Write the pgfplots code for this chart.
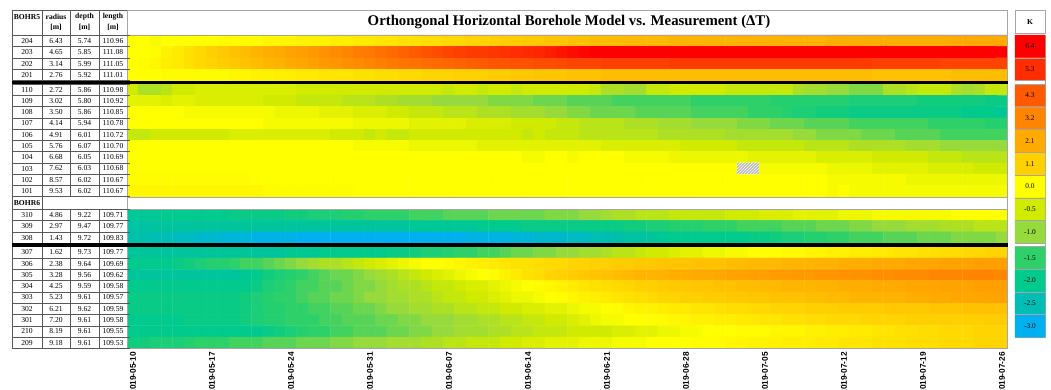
\documentclass[border=0pt]{standalone}
\usepackage{pgfplots}
\pgfplotsset{compat=1.18}
\usepackage{fontspec}
\setmainfont{Liberation Serif}
\newfontfamily\sansfont{Liberation Sans}
\usetikzlibrary{patterns}
\newcommand\tabfont{\fontsize{7.6}{8}\selectfont}

\pgfplotsset{colormap={bore}{
 rgb255(0)=(0,176,240)
 rgb255(5)=(0,190,180)
 rgb255(10)=(0,202,140)
 rgb255(15)=(45,208,105)
 rgb255(20)=(150,218,60)
 rgb255(25)=(208,234,0)
 rgb255(30)=(255,255,0)
 rgb255(41)=(255,208,0)
 rgb255(51)=(255,170,0)
 rgb255(62)=(255,132,0)
 rgb255(73)=(255,90,0)
 rgb255(83)=(255,45,0)
 rgb255(94)=(255,0,0)
}}

\begin{document}
\begin{tikzpicture}[declare function={
  rowy(\r)=(\r<4)*(35+11.43*(\r+0.5)) + (\r>3)*(\r<14)*(84+11.27*(\r-3.5))
          + (\r>13)*(\r<15)*202.9 + (\r>14)*(\r<18)*(209+11.43*(\r-14.5))
          + (\r>17)*(246.7+11.29*(\r-17.5));}]
% ---------------- heat map (y in pixel rows from the top) ----------------
\begin{axis}[
  at={(127.4pt,41.7pt)}, anchor=south west,
  scale only axis, width=880.2pt, height=313.3pt,
  xmin=-0.5, xmax=77.5, ymin=35, ymax=348.3, y dir=reverse,
  enlargelimits=false,
  colormap name=bore, point meta min=-3, point meta max=6.4,
  xtick={0,7,...,77},
  xticklabels={2019-05-10,2019-05-17,2019-05-24,2019-05-31,2019-06-07,2019-06-14,2019-06-21,2019-06-28,2019-07-05,2019-07-12,2019-07-19,2019-07-26},
  ytick=\empty,
  major tick length=0pt,
  xticklabel style={font=\sansfont\bfseries\fontsize{8.3}{9}\selectfont, rotate=90, anchor=east, inner sep=3.5pt},
  axis line style={draw=gray!70, line width=0.6pt},
  axis on top,
]
\addplot[matrix plot, mesh/cols=78, point meta=explicit]
 table[header=false, row sep=\\, x expr={mod(\coordindex,78)}, y expr={rowy(floor((\coordindex+0.5)/78))}, meta index=0] {
0.0\\0.0\\-0.1\\0.0\\0.0\\0.0\\0.0\\0.0\\0.1\\0.1\\
0.1\\0.1\\0.2\\0.2\\0.2\\0.3\\0.3\\0.3\\0.4\\0.4\\
0.5\\0.5\\0.6\\0.6\\0.7\\0.7\\0.8\\0.8\\0.9\\0.9\\
1.0\\1.0\\1.1\\1.2\\1.2\\1.3\\1.3\\1.4\\1.4\\1.5\\
1.5\\1.6\\1.6\\1.6\\1.7\\1.7\\1.7\\1.7\\1.8\\1.8\\
1.8\\1.8\\1.8\\1.8\\1.9\\1.9\\1.9\\1.9\\1.9\\1.9\\
1.9\\1.9\\2.0\\2.0\\2.0\\2.0\\2.0\\2.0\\2.0\\2.0\\
2.0\\2.0\\2.0\\2.1\\2.1\\2.1\\2.1\\2.1\\
0.0\\0.0\\0.1\\0.3\\0.5\\0.7\\0.9\\1.1\\1.3\\1.5\\
1.6\\1.8\\2.0\\2.1\\2.3\\2.4\\2.6\\2.8\\3.0\\3.2\\
3.4\\3.5\\3.7\\3.9\\4.1\\4.3\\4.5\\4.6\\4.8\\4.9\\
5.0\\5.0\\5.1\\5.2\\5.3\\5.4\\5.5\\5.7\\5.9\\6.1\\
6.3\\6.4\\6.4\\6.4\\6.4\\6.4\\6.4\\6.4\\6.4\\6.4\\
6.4\\6.4\\6.4\\6.4\\6.4\\6.4\\6.4\\6.4\\6.4\\6.4\\
6.4\\6.4\\6.4\\6.4\\6.4\\6.4\\6.4\\6.4\\6.4\\6.4\\
6.4\\6.4\\6.4\\6.4\\6.4\\6.4\\6.4\\6.4\\
0.0\\0.1\\0.2\\0.4\\0.5\\0.7\\0.9\\1.0\\1.2\\1.3\\
1.5\\1.6\\1.8\\1.9\\2.1\\2.2\\2.4\\2.6\\2.7\\2.9\\
3.0\\3.2\\3.3\\3.5\\3.6\\3.7\\3.8\\3.9\\4.0\\4.1\\
4.2\\4.3\\4.4\\4.4\\4.5\\4.5\\4.6\\4.6\\4.7\\4.8\\
4.8\\4.8\\4.9\\4.9\\4.9\\4.9\\4.9\\4.9\\5.0\\5.0\\
5.0\\5.0\\5.0\\5.0\\5.0\\5.0\\5.0\\5.0\\5.0\\5.0\\
5.0\\5.0\\5.0\\5.0\\5.0\\5.0\\4.9\\4.9\\4.9\\4.9\\
4.9\\4.9\\4.8\\4.8\\4.8\\4.8\\4.8\\4.8\\
0.0\\0.0\\0.0\\0.1\\0.1\\0.1\\0.1\\0.1\\0.1\\0.2\\
0.2\\0.3\\0.3\\0.4\\0.4\\0.5\\0.5\\0.6\\0.6\\0.6\\
0.7\\0.7\\0.8\\0.8\\0.9\\0.9\\1.0\\1.0\\1.0\\1.1\\
1.1\\1.1\\1.2\\1.2\\1.3\\1.3\\1.4\\1.4\\1.4\\1.5\\
1.5\\1.5\\1.6\\1.6\\1.6\\1.6\\1.6\\1.6\\1.6\\1.6\\
1.6\\1.6\\1.6\\1.6\\1.6\\1.6\\1.6\\1.6\\1.6\\1.6\\
1.6\\1.6\\1.6\\1.6\\1.6\\1.6\\1.5\\1.5\\1.5\\1.5\\
1.5\\1.5\\1.5\\1.6\\1.6\\1.6\\1.6\\1.6\\
-0.5\\-0.8\\-0.8\\-0.7\\-0.5\\-0.5\\-0.4\\-0.4\\-0.4\\-0.4\\
-0.4\\-0.4\\-0.4\\-0.4\\-0.4\\-0.5\\-0.5\\-0.5\\-0.5\\-0.5\\
-0.5\\-0.5\\-0.5\\-0.5\\-0.5\\-0.5\\-0.5\\-0.5\\-0.6\\-0.5\\
-0.5\\-0.6\\-0.5\\-0.5\\-0.6\\-0.5\\-0.5\\-0.5\\-0.5\\-0.5\\
-0.5\\-0.6\\-0.8\\-0.8\\-0.9\\-0.9\\-0.6\\-0.6\\-0.5\\-0.5\\
-0.5\\-0.5\\-0.5\\-0.6\\-0.6\\-0.6\\-0.6\\-0.6\\-0.6\\-0.8\\
-0.9\\-0.9\\-1.0\\-1.0\\-1.1\\-1.1\\-1.1\\-0.8\\-0.8\\-0.7\\
-0.6\\-0.6\\-0.6\\-0.8\\-0.9\\-0.8\\-0.6\\-0.6\\
-0.3\\-0.3\\-0.3\\-0.4\\-0.3\\-0.3\\-0.4\\-0.4\\-0.4\\-0.4\\
-0.4\\-0.4\\-0.5\\-0.5\\-0.5\\-0.6\\-0.6\\-0.6\\-0.6\\-0.7\\
-0.7\\-0.7\\-0.8\\-0.8\\-0.9\\-0.9\\-0.9\\-1.0\\-1.0\\-1.0\\
-1.0\\-1.0\\-1.1\\-1.1\\-1.1\\-1.1\\-1.2\\-1.2\\-1.2\\-1.3\\
-1.3\\-1.3\\-1.3\\-1.4\\-1.4\\-1.4\\-1.4\\-1.4\\-1.4\\-1.4\\
-1.5\\-1.5\\-1.5\\-1.5\\-1.5\\-1.5\\-1.5\\-1.6\\-1.6\\-1.6\\
-1.6\\-1.6\\-1.6\\-1.6\\-1.7\\-1.7\\-1.7\\-1.7\\-1.7\\-1.7\\
-1.8\\-1.8\\-1.8\\-1.8\\-1.8\\-1.8\\-1.9\\-1.9\\
0.0\\0.0\\0.0\\0.0\\0.0\\-0.1\\-0.1\\-0.1\\-0.1\\-0.1\\
-0.1\\-0.1\\-0.1\\-0.2\\-0.2\\-0.2\\-0.2\\-0.3\\-0.3\\-0.3\\
-0.4\\-0.4\\-0.4\\-0.5\\-0.5\\-0.6\\-0.6\\-0.6\\-0.7\\-0.7\\
-0.7\\-0.8\\-0.8\\-0.8\\-0.9\\-0.9\\-0.9\\-1.0\\-1.0\\-1.1\\
-1.1\\-1.2\\-1.2\\-1.2\\-1.2\\-1.3\\-1.3\\-1.3\\-1.3\\-1.3\\
-1.4\\-1.4\\-1.4\\-1.4\\-1.4\\-1.5\\-1.5\\-1.5\\-1.6\\-1.7\\
-1.7\\-1.8\\-1.8\\-1.8\\-1.9\\-1.9\\-1.9\\-1.9\\-1.9\\-1.9\\
-1.9\\-1.9\\-1.9\\-1.9\\-2.0\\-2.0\\-2.0\\-2.1\\
0.0\\0.0\\0.0\\0.0\\0.0\\0.0\\0.0\\0.0\\0.0\\0.0\\
0.0\\0.0\\-0.1\\-0.1\\-0.1\\-0.1\\-0.1\\-0.1\\-0.1\\-0.1\\
-0.2\\-0.2\\-0.2\\-0.2\\-0.2\\-0.3\\-0.3\\-0.3\\-0.3\\-0.3\\
-0.4\\-0.4\\-0.4\\-0.4\\-0.5\\-0.5\\-0.5\\-0.5\\-0.6\\-0.6\\
-0.7\\-0.7\\-0.7\\-0.7\\-0.8\\-0.8\\-0.8\\-0.9\\-0.9\\-0.9\\
-1.0\\-1.0\\-1.0\\-1.0\\-1.1\\-1.1\\-1.1\\-1.2\\-1.2\\-1.2\\
-1.3\\-1.3\\-1.3\\-1.3\\-1.4\\-1.4\\-1.4\\-1.4\\-1.4\\-1.4\\
-1.4\\-1.5\\-1.5\\-1.5\\-1.5\\-1.5\\-1.6\\-1.6\\
-0.6\\-0.6\\-0.5\\-0.5\\-0.5\\-0.5\\-0.5\\-0.5\\-0.5\\-0.4\\
-0.4\\-0.4\\-0.4\\-0.4\\-0.4\\-0.4\\-0.4\\-0.4\\-0.5\\-0.5\\
-0.5\\-0.6\\-0.5\\-0.6\\-0.6\\-0.5\\-0.5\\-0.5\\-0.5\\-0.5\\
-0.5\\-0.5\\-0.5\\-0.5\\-0.5\\-0.6\\-0.5\\-0.6\\-0.6\\-0.6\\
-0.7\\-0.7\\-0.7\\-0.7\\-0.7\\-0.7\\-0.7\\-0.8\\-0.8\\-0.8\\
-0.8\\-0.8\\-0.8\\-0.9\\-0.9\\-0.9\\-0.9\\-0.9\\-0.9\\-1.0\\
-1.0\\-1.1\\-1.1\\-1.1\\-1.1\\-1.2\\-1.2\\-1.2\\-1.3\\-1.3\\
-1.3\\-1.3\\-1.4\\-1.4\\-1.4\\-1.4\\-1.4\\-1.4\\
0.0\\0.0\\0.0\\0.0\\0.0\\0.0\\0.0\\0.0\\0.0\\0.0\\
0.0\\0.0\\0.0\\0.0\\0.0\\0.0\\0.0\\0.0\\0.0\\0.0\\
-0.1\\-0.1\\-0.1\\-0.1\\-0.1\\-0.2\\-0.2\\-0.2\\-0.2\\-0.2\\
-0.2\\-0.3\\-0.3\\-0.3\\-0.3\\-0.3\\-0.3\\-0.3\\-0.3\\-0.3\\
-0.3\\-0.3\\-0.4\\-0.4\\-0.4\\-0.4\\-0.4\\-0.4\\-0.4\\-0.5\\
-0.5\\-0.5\\-0.5\\-0.5\\-0.6\\-0.6\\-0.6\\-0.6\\-0.6\\-0.6\\
-0.7\\-0.7\\-0.7\\-0.7\\-0.8\\-0.8\\-0.8\\-0.8\\-0.8\\-0.9\\
-0.9\\-0.9\\-1.0\\-1.0\\-1.0\\-1.0\\-1.0\\-1.0\\
0.0\\0.0\\0.0\\0.0\\0.0\\0.0\\0.0\\0.0\\0.0\\0.0\\
0.0\\0.0\\0.0\\0.0\\0.0\\0.0\\0.0\\0.0\\0.0\\0.0\\
0.0\\0.0\\0.0\\0.0\\0.0\\0.0\\0.0\\0.0\\0.0\\0.0\\
0.0\\0.0\\0.0\\0.0\\0.0\\-0.1\\-0.1\\0.0\\0.0\\-0.1\\
0.0\\0.0\\0.0\\0.0\\-0.1\\-0.1\\-0.1\\-0.1\\-0.2\\-0.2\\
-0.2\\-0.2\\-0.2\\-0.2\\-0.2\\-0.3\\-0.3\\-0.3\\-0.3\\-0.3\\
-0.3\\-0.4\\-0.4\\-0.4\\-0.4\\-0.4\\-0.5\\-0.5\\-0.5\\-0.5\\
-0.5\\-0.6\\-0.6\\-0.6\\-0.7\\-0.7\\-0.7\\-0.7\\
0.0\\0.0\\0.0\\0.0\\0.0\\0.0\\0.0\\0.0\\0.0\\0.0\\
0.0\\0.0\\0.0\\0.0\\0.0\\0.0\\0.0\\0.0\\0.0\\0.0\\
0.0\\0.0\\0.0\\0.0\\0.0\\0.0\\0.0\\0.0\\0.0\\0.0\\
0.0\\0.0\\0.0\\0.0\\0.0\\0.0\\0.0\\0.0\\0.0\\0.0\\
0.0\\0.0\\0.0\\0.0\\0.0\\0.0\\0.0\\0.0\\0.0\\0.0\\
0.0\\0.0\\0.0\\0.0\\0.0\\0.0\\-0.1\\-0.1\\-0.1\\-0.1\\
-0.1\\-0.1\\-0.2\\-0.2\\-0.2\\-0.2\\-0.3\\-0.3\\-0.3\\-0.3\\
-0.3\\-0.4\\-0.4\\-0.4\\-0.4\\-0.5\\-0.5\\-0.5\\
0.1\\0.1\\0.1\\0.1\\0.1\\0.1\\0.1\\0.1\\0.1\\0.1\\
0.1\\0.0\\0.0\\0.0\\0.0\\0.0\\0.0\\0.0\\0.0\\0.0\\
0.0\\0.0\\0.0\\0.0\\0.0\\0.0\\0.0\\0.0\\0.0\\0.0\\
0.0\\0.0\\0.0\\0.0\\0.0\\0.0\\0.0\\0.0\\0.0\\0.0\\
0.0\\0.0\\0.0\\0.0\\0.0\\0.0\\0.0\\0.0\\0.0\\0.0\\
0.0\\0.0\\0.0\\0.0\\0.0\\0.0\\0.0\\0.0\\0.0\\0.0\\
0.0\\0.0\\-0.1\\-0.1\\-0.1\\-0.1\\-0.1\\-0.1\\-0.1\\-0.2\\
-0.2\\-0.2\\-0.2\\-0.2\\-0.2\\-0.2\\-0.2\\-0.2\\
0.2\\0.2\\0.2\\0.2\\0.2\\0.2\\0.2\\0.2\\0.2\\0.2\\
0.2\\0.2\\0.1\\0.1\\0.1\\0.1\\0.1\\0.1\\0.1\\0.1\\
0.0\\0.0\\0.0\\0.0\\0.0\\0.0\\0.0\\0.0\\0.0\\0.0\\
0.0\\0.0\\0.0\\0.0\\0.0\\0.0\\0.0\\0.0\\0.0\\0.0\\
0.0\\0.0\\0.0\\0.0\\0.0\\0.0\\0.0\\0.0\\0.0\\0.0\\
0.0\\0.0\\0.0\\0.0\\0.0\\0.0\\0.0\\0.0\\0.0\\0.0\\
0.0\\0.0\\-0.1\\0.0\\-0.1\\-0.1\\-0.1\\-0.1\\-0.1\\-0.1\\
-0.1\\-0.1\\-0.1\\-0.1\\-0.1\\-0.1\\-0.1\\-0.1\\
0.0\\0.0\\0.0\\0.0\\0.0\\0.0\\0.0\\0.0\\0.0\\0.0\\
0.0\\0.0\\0.0\\0.0\\0.0\\0.0\\0.0\\0.0\\0.0\\0.0\\
0.0\\0.0\\0.0\\0.0\\0.0\\0.0\\0.0\\0.0\\0.0\\0.0\\
0.0\\0.0\\0.0\\0.0\\0.0\\0.0\\0.0\\0.0\\0.0\\0.0\\
0.0\\0.0\\0.0\\0.0\\0.0\\0.0\\0.0\\0.0\\0.0\\0.0\\
0.0\\0.0\\0.0\\0.0\\0.0\\0.0\\0.0\\0.0\\0.0\\0.0\\
0.0\\0.0\\0.0\\0.0\\0.0\\0.0\\0.0\\0.0\\0.0\\0.0\\
0.0\\0.0\\0.0\\0.0\\0.0\\0.0\\0.0\\0.0\\
-2.1\\-2.1\\-2.1\\-2.0\\-2.0\\-2.0\\-2.0\\-2.0\\-2.0\\-1.9\\
-1.9\\-1.9\\-1.9\\-1.9\\-1.8\\-1.8\\-1.7\\-1.7\\-1.7\\-1.6\\
-1.6\\-1.5\\-1.5\\-1.5\\-1.5\\-1.4\\-1.4\\-1.4\\-1.3\\-1.3\\
-1.3\\-1.3\\-1.2\\-1.2\\-1.2\\-1.2\\-1.2\\-1.1\\-1.1\\-1.1\\
-1.0\\-1.0\\-0.9\\-0.8\\-0.8\\-0.7\\-0.7\\-0.7\\-0.6\\-0.6\\
-0.6\\-0.6\\-0.6\\-0.5\\-0.5\\-0.5\\-0.4\\-0.4\\-0.4\\-0.3\\
-0.3\\-0.3\\-0.3\\-0.2\\-0.2\\-0.2\\-0.1\\-0.1\\-0.1\\-0.1\\
-0.1\\-0.1\\-0.1\\0.0\\0.0\\0.0\\0.0\\0.0\\
-2.3\\-2.3\\-2.2\\-2.2\\-2.2\\-2.2\\-2.2\\-2.2\\-2.2\\-2.2\\
-2.2\\-2.2\\-2.2\\-2.2\\-2.2\\-2.2\\-2.2\\-2.2\\-2.2\\-2.2\\
-2.2\\-2.2\\-2.2\\-2.2\\-2.2\\-2.1\\-2.1\\-2.1\\-2.1\\-2.1\\
-2.1\\-2.0\\-2.0\\-2.0\\-2.0\\-1.9\\-1.9\\-1.9\\-1.9\\-1.9\\
-1.9\\-1.9\\-1.9\\-1.9\\-1.8\\-1.8\\-1.7\\-1.7\\-1.6\\-1.6\\
-1.6\\-1.5\\-1.5\\-1.5\\-1.4\\-1.4\\-1.4\\-1.4\\-1.3\\-1.3\\
-1.3\\-1.2\\-1.2\\-1.2\\-1.1\\-1.1\\-1.0\\-1.0\\-1.0\\-0.9\\
-0.9\\-0.9\\-0.8\\-0.8\\-0.8\\-0.7\\-0.7\\-0.7\\
-2.4\\-2.4\\-2.5\\-2.5\\-2.6\\-2.6\\-2.7\\-2.7\\-2.8\\-2.8\\
-2.8\\-2.9\\-2.9\\-2.9\\-2.9\\-3.0\\-3.0\\-3.0\\-3.0\\-3.0\\
-3.0\\-3.0\\-3.0\\-3.0\\-3.0\\-3.0\\-3.0\\-3.0\\-3.0\\-3.0\\
-2.9\\-2.9\\-2.9\\-2.9\\-2.8\\-2.8\\-2.7\\-2.7\\-2.7\\-2.6\\
-2.6\\-2.5\\-2.5\\-2.4\\-2.3\\-2.3\\-2.2\\-2.1\\-2.0\\-2.0\\
-2.0\\-2.0\\-2.0\\-2.0\\-2.0\\-1.9\\-1.9\\-1.8\\-1.7\\-1.7\\
-1.6\\-1.6\\-1.5\\-1.5\\-1.4\\-1.4\\-1.4\\-1.3\\-1.3\\-1.3\\
-1.2\\-1.2\\-1.2\\-1.1\\-1.1\\-1.1\\-1.1\\-1.0\\
-2.2\\-2.2\\-2.2\\-2.2\\-2.2\\-2.2\\-2.2\\-2.2\\-2.2\\-2.2\\
-2.2\\-2.2\\-2.2\\-2.2\\-2.1\\-2.1\\-2.1\\-2.0\\-2.0\\-2.0\\
-2.0\\-2.0\\-2.0\\-1.9\\-1.9\\-1.8\\-1.7\\-1.7\\-1.6\\-1.5\\
-1.5\\-1.4\\-1.4\\-1.3\\-1.2\\-1.2\\-1.1\\-1.1\\-1.0\\-1.0\\
-0.9\\-0.9\\-0.8\\-0.7\\-0.7\\-0.6\\-0.5\\-0.5\\-0.4\\-0.3\\
-0.3\\-0.2\\-0.2\\-0.1\\-0.1\\0.0\\0.0\\0.0\\0.1\\0.1\\
0.2\\0.2\\0.3\\0.3\\0.4\\0.4\\0.5\\0.5\\0.6\\0.6\\
0.7\\0.7\\0.8\\0.8\\0.9\\0.9\\1.0\\1.0\\
-2.0\\-2.0\\-2.0\\-2.0\\-1.9\\-1.8\\-1.7\\-1.6\\-1.6\\-1.5\\
-1.4\\-1.4\\-1.3\\-1.2\\-1.1\\-1.0\\-0.9\\-0.8\\-0.8\\-0.7\\
-0.6\\-0.5\\-0.4\\-0.3\\-0.2\\-0.1\\0.0\\0.0\\0.1\\0.2\\
0.3\\0.4\\0.5\\0.6\\0.7\\0.7\\0.8\\0.9\\0.9\\1.0\\
1.0\\1.1\\1.1\\1.2\\1.2\\1.3\\1.3\\1.4\\1.4\\1.4\\
1.5\\1.5\\1.5\\1.6\\1.6\\1.7\\1.7\\1.7\\1.8\\1.8\\
1.8\\1.9\\1.9\\2.0\\2.0\\2.0\\2.1\\2.1\\2.1\\2.2\\
2.2\\2.2\\2.3\\2.3\\2.3\\2.4\\2.4\\2.4\\
-2.2\\-2.2\\-2.2\\-2.2\\-2.2\\-2.2\\-2.2\\-2.2\\-2.2\\-2.2\\
-2.1\\-2.0\\-1.8\\-1.7\\-1.6\\-1.5\\-1.4\\-1.3\\-1.2\\-1.2\\
-1.1\\-1.0\\-0.9\\-0.8\\-0.7\\-0.6\\-0.5\\-0.4\\-0.3\\-0.2\\
-0.1\\0.0\\0.1\\0.3\\0.5\\0.7\\0.8\\1.0\\1.1\\1.2\\
1.3\\1.4\\1.5\\1.6\\1.7\\1.8\\1.8\\1.9\\2.0\\2.0\\
2.1\\2.1\\2.2\\2.3\\2.3\\2.4\\2.4\\2.5\\2.5\\2.6\\
2.6\\2.7\\2.7\\2.8\\2.8\\2.8\\2.9\\2.9\\3.0\\3.0\\
3.0\\3.1\\3.1\\3.1\\3.2\\3.2\\3.2\\3.1\\
-2.0\\-2.0\\-2.0\\-2.0\\-2.0\\-2.0\\-2.0\\-2.0\\-2.0\\-2.0\\
-2.0\\-1.9\\-1.7\\-1.6\\-1.5\\-1.4\\-1.4\\-1.3\\-1.3\\-1.2\\
-1.1\\-1.1\\-1.0\\-0.9\\-0.8\\-0.8\\-0.7\\-0.6\\-0.6\\-0.5\\
-0.4\\-0.4\\-0.3\\-0.2\\-0.1\\0.0\\0.1\\0.2\\0.3\\0.5\\
0.6\\0.7\\0.8\\0.9\\1.0\\1.1\\1.1\\1.2\\1.3\\1.3\\
1.4\\1.4\\1.5\\1.5\\1.6\\1.6\\1.7\\1.7\\1.8\\1.8\\
1.8\\1.9\\1.9\\2.0\\2.0\\2.0\\2.1\\2.1\\2.1\\2.2\\
2.2\\2.2\\2.3\\2.3\\2.3\\2.4\\2.4\\2.4\\
-1.9\\-1.9\\-1.9\\-1.9\\-1.9\\-1.9\\-1.9\\-1.9\\-1.9\\-1.9\\
-1.8\\-1.7\\-1.6\\-1.5\\-1.5\\-1.4\\-1.3\\-1.3\\-1.2\\-1.2\\
-1.1\\-1.0\\-1.0\\-0.9\\-0.9\\-0.8\\-0.8\\-0.7\\-0.6\\-0.6\\
-0.5\\-0.5\\-0.4\\-0.3\\-0.2\\-0.2\\-0.1\\0.0\\0.1\\0.2\\
0.3\\0.4\\0.5\\0.6\\0.7\\0.8\\0.9\\1.0\\1.0\\1.1\\
1.1\\1.2\\1.2\\1.3\\1.3\\1.4\\1.4\\1.5\\1.5\\1.5\\
1.6\\1.6\\1.7\\1.7\\1.8\\1.8\\1.8\\1.9\\1.9\\2.0\\
2.0\\2.1\\2.1\\2.2\\2.2\\2.2\\2.3\\2.3\\
-1.9\\-1.9\\-1.9\\-1.9\\-1.9\\-1.9\\-1.9\\-1.9\\-1.9\\-1.9\\
-1.8\\-1.7\\-1.6\\-1.6\\-1.5\\-1.5\\-1.4\\-1.4\\-1.3\\-1.3\\
-1.2\\-1.2\\-1.1\\-1.0\\-1.0\\-0.9\\-0.9\\-0.8\\-0.8\\-0.7\\
-0.7\\-0.6\\-0.6\\-0.5\\-0.5\\-0.4\\-0.4\\-0.3\\-0.3\\-0.2\\
-0.1\\-0.1\\0.0\\0.1\\0.2\\0.3\\0.3\\0.4\\0.5\\0.5\\
0.6\\0.6\\0.7\\0.8\\0.8\\0.9\\0.9\\1.0\\1.0\\1.0\\
1.1\\1.1\\1.1\\1.2\\1.2\\1.2\\1.2\\1.3\\1.3\\1.3\\
1.3\\1.4\\1.4\\1.4\\1.5\\1.5\\1.5\\1.5\\
-2.0\\-2.0\\-2.0\\-2.0\\-2.0\\-1.9\\-1.9\\-1.9\\-1.9\\-1.9\\
-1.8\\-1.7\\-1.6\\-1.6\\-1.5\\-1.5\\-1.5\\-1.4\\-1.4\\-1.3\\
-1.3\\-1.3\\-1.2\\-1.2\\-1.1\\-1.1\\-1.0\\-1.0\\-1.0\\-0.9\\
-0.9\\-0.8\\-0.8\\-0.7\\-0.7\\-0.6\\-0.6\\-0.5\\-0.5\\-0.4\\
-0.3\\-0.2\\-0.1\\-0.1\\0.0\\0.0\\0.1\\0.1\\0.2\\0.2\\
0.3\\0.3\\0.4\\0.4\\0.5\\0.5\\0.6\\0.6\\0.7\\0.7\\
0.8\\0.8\\0.9\\0.9\\0.9\\1.0\\1.0\\1.0\\1.0\\1.1\\
1.1\\1.1\\1.1\\1.1\\1.1\\1.1\\1.2\\1.2\\
-2.0\\-2.0\\-2.0\\-2.0\\-2.0\\-2.0\\-2.0\\-2.0\\-2.0\\-2.0\\
-2.0\\-2.0\\-1.9\\-1.8\\-1.7\\-1.6\\-1.5\\-1.5\\-1.4\\-1.4\\
-1.3\\-1.3\\-1.3\\-1.2\\-1.2\\-1.1\\-1.1\\-1.0\\-1.0\\-0.9\\
-0.9\\-0.9\\-0.8\\-0.8\\-0.7\\-0.7\\-0.6\\-0.6\\-0.6\\-0.5\\
-0.5\\-0.5\\-0.5\\-0.4\\-0.4\\-0.3\\-0.3\\-0.2\\-0.2\\-0.1\\
-0.1\\0.0\\0.0\\0.0\\0.1\\0.1\\0.1\\0.2\\0.2\\0.2\\
0.3\\0.3\\0.4\\0.4\\0.5\\0.5\\0.6\\0.6\\0.7\\0.7\\
0.8\\0.8\\0.9\\0.9\\0.9\\1.0\\1.0\\1.0\\
-1.8\\-1.8\\-1.7\\-1.7\\-1.7\\-1.6\\-1.5\\-1.5\\-1.5\\-1.4\\
-1.4\\-1.4\\-1.3\\-1.3\\-1.3\\-1.2\\-1.2\\-1.2\\-1.1\\-1.1\\
-1.0\\-1.0\\-1.0\\-0.9\\-0.9\\-0.9\\-0.8\\-0.8\\-0.7\\-0.7\\
-0.6\\-0.6\\-0.6\\-0.5\\-0.5\\-0.4\\-0.4\\-0.3\\-0.3\\-0.3\\
-0.2\\-0.2\\-0.2\\-0.1\\-0.1\\-0.1\\0.0\\0.0\\0.0\\0.0\\
0.1\\0.1\\0.1\\0.2\\0.2\\0.3\\0.3\\0.3\\0.4\\0.4\\
0.4\\0.5\\0.5\\0.6\\0.6\\0.6\\0.7\\0.7\\0.7\\0.8\\
0.8\\0.8\\0.9\\0.9\\0.9\\1.0\\1.0\\1.0\\
};
% empty BOHR6 row
\fill[white] (axis cs:-0.5,196.9) rectangle (axis cs:77.5,208.9);
\draw[gray!70, line width=0.6pt] (axis cs:-0.5,196.9) -- (axis cs:77.5,196.9)
  (axis cs:-0.5,208.9) -- (axis cs:77.5,208.9);
% missing values
\fill[gray!55] (axis cs:53.5,162.9) rectangle (axis cs:55.5,174.2);
\fill[pattern=north east lines, pattern color=white] (axis cs:53.5,162.9) rectangle (axis cs:55.5,174.2);
\end{axis}

% ---------------- colour key ----------------
\begin{axis}[
  at={(1015pt,52.9pt)}, anchor=south west,
  scale only axis, width=30pt, height=302.1pt,
  xmin=-0.5, xmax=1.5, ymin=35, ymax=337.1, y dir=reverse,
  enlargelimits=false,
  colormap name=bore, point meta min=-3, point meta max=6.4,
  xtick=\empty, ytick=\empty,
  axis line style={draw=gray!70, line width=0.6pt},
  clip=false,
]
\addplot[matrix plot*, mesh/cols=2, point meta=explicit] table[x=x, y=y, meta=c] {
x y c
0 46.4 6.4
1 46.4 6.4
0 69.1 5.3
1 69.1 5.3
0 95.4 4.3
1 95.4 4.3
0 118.1 3.2
1 118.1 3.2
0 140.9 2.1
1 140.9 2.1
0 163.7 1.1
1 163.7 1.1
0 186.4 0.0
1 186.4 0.0
0 209.2 -0.5
1 209.2 -0.5
0 231.9 -1.0
1 231.9 -1.0
0 258.0 -1.5
1 258.0 -1.5
0 280.6 -2.0
1 280.6 -2.0
0 303.2 -2.5
1 303.2 -2.5
0 325.8 -3.0
1 325.8 -3.0
};
\addplot[draw=none, mark=none, point meta=explicit symbolic,
  nodes near coords, nodes near coords align={center},
  every node near coord/.append style={font=\fontsize{7.3}{8}\selectfont, text=black, anchor=center}]
  table[x=x, y=y, meta=lab] {
x y lab
0.5 46.4 6.4
0.5 69.1 5.3
0.5 95.4 4.3
0.5 118.1 3.2
0.5 140.9 2.1
0.5 163.7 1.1
0.5 186.4 0.0
0.5 209.2 -0.5
0.5 231.9 -1.0
0.5 258.0 -1.5
0.5 280.6 -2.0
0.5 303.2 -2.5
0.5 325.8 -3.0
};
\end{axis}

% ---------------- table, frames, title (pixel grid, y downwards) ----------------
\begin{scope}[x=1pt, y=-1pt, shift={(0pt,390pt)}]
  % colour key lines and gaps
  \foreach \yy in {57.8,106.8,129.5,152.3,175.0,197.8,220.6,269.3,291.9,314.5} {
    \draw[gray!70, line width=0.5pt] (1015,\yy) -- (1045,\yy);
  }
  \fill[white] (1014.6,80.7) rectangle (1045.4,84.0);
  \fill[white] (1014.6,243.3) rectangle (1045.4,246.7);
  \draw[gray!70, line width=0.5pt] (1015,80.7) -- (1045,80.7) (1015,84.0) -- (1045,84.0)
    (1015,243.3) -- (1045,243.3) (1015,246.7) -- (1045,246.7);
  \draw[gray!70, line width=0.6pt] (1015,10.5) rectangle (1045,33.5);
  \node[font=\bfseries\fontsize{7.5}{8}\selectfont] at (1030,22) {K};
  % title
  \draw[gray!70, line width=0.6pt] (127.4,10.5) rectangle (1007.6,35);
  \node[font=\bfseries\fontsize{14.8}{16}\selectfont] at (569,22.5)
    {Orthongonal Horizontal Borehole Model vs. Measurement (ΔT)};
  % table grid
  \foreach \yy in {35,46.43,57.86,69.29,80.7,84,95.27,106.54,117.81,129.08,140.35,151.62,162.89,174.16,185.43,196.7,
                   209,220.43,231.86,243.3,246.7,257.99,269.28,280.57,291.86,303.15,314.44,325.73,337.02,348.3} {
    \draw[black!65, line width=0.45pt] (12,\yy) -- (129.5,\yy);
  }
  \draw[black!65, line width=0.45pt] (12,10.5) -- (127.4,10.5);
  \draw[black!65, line width=0.45pt] (12,10.5) -- (12,348.3);
  \draw[black!65, line width=0.45pt] (42,10.5) -- (42,348.3);
  \draw[black!65, line width=0.45pt] (70,10.5) -- (70,196.7) (70,209) -- (70,348.3);
  \draw[black!65, line width=0.45pt] (99,10.5) -- (99,196.7) (99,209) -- (99,348.3);
  % header
  \node[font=\bfseries\tabfont] at (27,17) {BOHR5};
  \node[font=\bfseries\tabfont] at (56,17) {radius};
  \node[font=\bfseries\tabfont] at (56,27.5) {[m]};
  \node[font=\bfseries\tabfont] at (84.5,17) {depth};
  \node[font=\bfseries\tabfont] at (84.5,27.5) {[m]};
  \node[font=\bfseries\tabfont] at (113,17) {length};
  \node[font=\bfseries\tabfont] at (113,27.5) {[m]};
  \node[font=\bfseries\tabfont] at (27,203) {BOHR6};
  % rows
  \foreach \k/\id/\r/\d/\l in {
    0/204/6.43/5.74/110.96, 1/203/4.65/5.85/111.08, 2/202/3.14/5.99/111.05,
    3/201/2.76/5.92/111.01, 4/110/2.72/5.86/110.98, 5/109/3.02/5.80/110.92,
    6/108/3.50/5.86/110.85, 7/107/4.14/5.94/110.78, 8/106/4.91/6.01/110.72,
    9/105/5.76/6.07/110.70, 10/104/6.68/6.05/110.69, 11/103/7.62/6.03/110.68,
    12/102/8.57/6.02/110.67, 13/101/9.53/6.02/110.67,
    15/310/4.86/9.22/109.71, 16/309/2.97/9.47/109.77, 17/308/1.43/9.72/109.83,
    18/307/1.62/9.73/109.77, 19/306/2.38/9.64/109.69, 20/305/3.28/9.56/109.62,
    21/304/4.25/9.59/109.58, 22/303/5.23/9.61/109.57, 23/302/6.21/9.62/109.59,
    24/301/7.20/9.61/109.58, 25/210/8.19/9.61/109.55, 26/209/9.18/9.61/109.53} {
    \pgfmathsetmacro\yc{rowy(\k)}
    \node[font=\tabfont] at (27,\yc) {\id};
    \node[font=\tabfont] at (56,\yc) {\r};
    \node[font=\tabfont] at (84.5,\yc) {\d};
    \node[font=\tabfont] at (113,\yc) {\l};
  }
  % thick separators
  \draw[black, line width=3.4pt] (12,82.35) -- (1007.6,82.35);
  \draw[black, line width=3.4pt] (12,245.0) -- (1007.6,245.0);
\end{scope}
\pgfresetboundingbox
\path[use as bounding box] (0pt,0pt) rectangle (1051pt,390pt);
\end{tikzpicture}
\end{document}
